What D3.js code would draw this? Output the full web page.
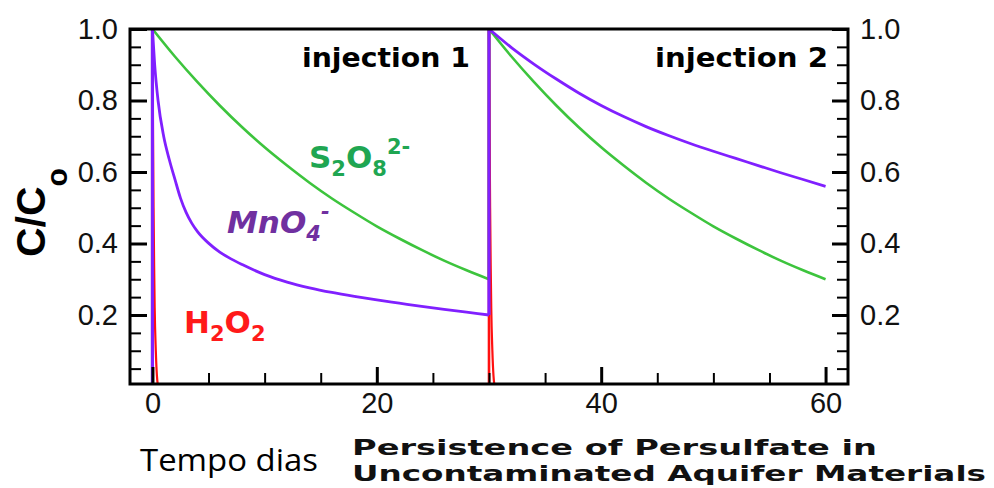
<!DOCTYPE html>
<html><head><meta charset="utf-8">
<script src="https://cdn.jsdelivr.net/npm/d3@7"></script>
<style>body{margin:0;background:#fff}svg{display:block}</style>
</head><body>
<svg id="c" width="994" height="488"></svg>
<script>
// ---------- data ----------
const injectionDays = [0, 30];

const s2o8Days1 = [0,2,4,6,8,10,12,14,16,18,20,22,24,26,28,30];
const s2o8Vals1 = [1.00,0.923,0.852,0.786,0.725,0.669,0.618,0.570,0.526,0.486,0.448,0.414,0.382,0.352,0.325,0.300];
const s2o8Days2 = [30,32,34,36,38,40,42,44,46,48,50,52,54,56,58,60];
const s2o8Vals2 = [1.00,0.923,0.852,0.786,0.725,0.669,0.618,0.570,0.526,0.486,0.448,0.414,0.382,0.352,0.325,0.300];

const mno4Days1 = [0,0.2,0.5,1,1.5,2,2.5,3,3.5,4,5,6,7,8,10,12,14,16,18,20,22,24,26,28,30];
const mno4Vals1 = [1.00,0.90,0.80,0.70,0.635,0.58,0.527,0.487,0.457,0.434,0.401,0.376,0.357,0.341,0.313,0.292,0.276,0.263,0.252,0.242,0.233,0.224,0.216,0.208,0.200];
const mno4Days2 = [30,32,34,36,38,40,42,44,46,48,50,52,54,56,58,60];
const mno4Vals2 = [1.00,0.948,0.902,0.860,0.821,0.786,0.755,0.727,0.702,0.679,0.658,0.638,0.618,0.598,0.579,0.560];

const h2o2Days1 = [0,0.05,0.1,0.15,0.2,0.3,0.4,0.5];
const h2o2Vals1 = [1.00,0.72,0.50,0.34,0.22,0.10,0.03,0.00];
const h2o2Days2 = [30,30.05,30.1,30.15,30.2,30.3,30.4,30.5];
const h2o2Vals2 = [1.00,0.72,0.50,0.34,0.22,0.10,0.03,0.00];

const xMajorTicks = [0,20,40,60];
const xTickLabels = ["0","20","40","60"];
const xMinorTicks = [5,10,15,25,30,35,45,50,55];
const yMajorTicks = [0.2,0.4,0.6,0.8,1.0];
const yTickLabels = ["0.2","0.4","0.6","0.8","1.0"];
const yMinorTicks = [0.05,0.1,0.15,0.25,0.3,0.35,0.45,0.5,0.55,0.65,0.7,0.75,0.85,0.9,0.95];

// ---------- layout ----------
const svg = d3.select("#c");
const x = d3.scaleLinear().domain([-2, 62]).range([130, 848]);
const y = d3.scaleLinear().domain([0.007, 1.0]).range([384, 29]);

const series = [
  {color:"#3dc43d", width:2.6, parts:[[s2o8Days1,s2o8Vals1],[s2o8Days2,s2o8Vals2]]},
  {color:"#ff1010", width:2.2, parts:[[h2o2Days1,h2o2Vals1],[h2o2Days2,h2o2Vals2]]},
  {color:"#8020ff", width:2.8, parts:[[mno4Days1,mno4Vals1],[mno4Days2,mno4Vals2]]}
];

svg.append("clipPath").attr("id","clip").append("rect")
  .attr("x", x.range()[0]).attr("y", y.range()[1])
  .attr("width", x.range()[1]-x.range()[0]).attr("height", y.range()[0]-y.range()[1]);

const gLines = svg.append("g").attr("clip-path","url(#clip)");
const curveLine = d3.line().x(d=>x(d[0])).y(d=>y(d[1])).curve(d3.curveMonotoneX);
const straight = d3.line().x(d=>x(d[0])).y(d=>y(d[1]));

series.forEach(s=>{
  let prev = 0;
  s.parts.forEach((p,i)=>{
    const pts = p[0].map((t,j)=>[t,p[1][j]]);
    gLines.append("path").attr("d", straight([[injectionDays[i], prev],[injectionDays[i], pts[0][1]]]))
      .attr("fill","none").attr("stroke", s.color).attr("stroke-width", s.width+0.4);
    gLines.append("path").attr("d", curveLine(pts))
      .attr("fill","none").attr("stroke", s.color).attr("stroke-width", s.width)
      .attr("stroke-linejoin","round");
    prev = pts[pts.length-1][1];
  });
});

// ---------- axes ----------
const fmtY = (d)=> yTickLabels[yMajorTicks.indexOf(d)];
const fmtX = (d)=> xTickLabels[xMajorTicks.indexOf(d)];
const axisFont = "'Liberation Sans', Arial, sans-serif";

function styleAxis(g, sw){
  g.select(".domain").remove();
  g.selectAll("line").attr("stroke","#000").attr("stroke-width", sw);
  g.selectAll("text").attr("font-family", axisFont).attr("font-size", 29).attr("fill","#111");
}

const xL = x.range()[0], xR = x.range()[1], yT = y.range()[1], yB = y.range()[0];

svg.append("g").attr("transform",`translate(${xL},0)`)
  .call(d3.axisLeft(y).tickValues(yMinorTicks).tickSize(-11).tickFormat(""))
  .call(g=>styleAxis(g,2));
svg.append("g").attr("transform",`translate(${xL},0)`)
  .call(d3.axisLeft(y).tickValues(yMajorTicks).tickSize(-17).tickPadding(12).tickFormat(fmtY))
  .call(g=>styleAxis(g,3));

svg.append("g").attr("transform",`translate(${xR},0)`)
  .call(d3.axisRight(y).tickValues(yMinorTicks).tickSize(-11).tickFormat(""))
  .call(g=>styleAxis(g,2));
svg.append("g").attr("transform",`translate(${xR},0)`)
  .call(d3.axisRight(y).tickValues(yMajorTicks).tickSize(-16).tickPadding(12).tickFormat(fmtY))
  .call(g=>styleAxis(g,3));

svg.append("g").attr("transform",`translate(0,${yB})`)
  .call(d3.axisBottom(x).tickValues(xMinorTicks).tickSize(-11).tickFormat(""))
  .call(g=>styleAxis(g,2));
svg.append("g").attr("transform",`translate(0,${yB})`)
  .call(d3.axisBottom(x).tickValues(xMajorTicks).tickSize(-17).tickPadding(8).tickFormat(fmtX))
  .call(g=>styleAxis(g,3));

// frame
svg.append("rect").attr("x",xL).attr("y",yT).attr("width",xR-xL).attr("height",yB-yT)
  .attr("fill","none").attr("stroke","#000").attr("stroke-width",3);

// y axis title C/Co
const yt = svg.append("text").attr("transform","translate(45,257) rotate(-90)")
  .attr("font-family",axisFont).attr("font-weight","bold").attr("font-size",41).attr("fill","#000");
yt.append("tspan").text("C/C");
yt.append("tspan").attr("dy",22).attr("font-size",30).text("o");

// panel labels
const lblFont = "'DejaVu Sans', sans-serif";
svg.append("text").attr("x",302).attr("y",67).attr("font-family",lblFont).attr("font-weight","bold")
  .attr("font-size",27).attr("textLength",168).attr("lengthAdjust","spacingAndGlyphs").text("injection 1");
svg.append("text").attr("x",655).attr("y",67).attr("font-family",lblFont).attr("font-weight","bold")
  .attr("font-size",27).attr("textLength",173).attr("lengthAdjust","spacingAndGlyphs").text("injection 2");

// species labels
function chem(xp, yp, color, parts, italic){
  const t = svg.append("text").attr("x",xp).attr("y",yp).attr("font-family",lblFont)
    .attr("font-weight","bold").attr("font-size",31).attr("fill",color);
  if(italic) t.attr("font-style","italic");
  let shift = 0;
  parts.forEach(p=>{
    const target = p[1]==="sub" ? 8 : p[1]==="sup" ? -14 : 0;
    t.append("tspan").attr("dy", target-shift).attr("font-size", p[1]==="n" ? 31 : 21).text(p[0]);
    shift = target;
  });
}
chem(309,168,"#1fa652",[["S","n"],["2","sub"],["O","n"],["8","sub"],["2-","sup"]],false);
chem(227,233,"#7030a0",[["MnO","n"],["4","sub"],["-","sup"]],true);
chem(184,333,"#ff1a1a",[["H","n"],["2","sub"],["O","n"],["2","sub"]],false);

// bottom texts
svg.append("text").attr("x",140).attr("y",471).attr("font-family","'Open Sans', sans-serif")
  .attr("font-size",31).attr("textLength",178).attr("lengthAdjust","spacingAndGlyphs").attr("fill","#000").text("Tempo dias");
svg.append("text").attr("x",352).attr("y",455).attr("font-family","'DejaVu Sans', sans-serif").attr("font-weight","bold")
  .attr("font-size",21.5).attr("textLength",525).attr("lengthAdjust","spacingAndGlyphs").attr("fill","#111").text("Persistence of Persulfate in");
svg.append("text").attr("x",352).attr("y",481).attr("font-family","'DejaVu Sans', sans-serif").attr("font-weight","bold")
  .attr("font-size",21.5).attr("textLength",634).attr("lengthAdjust","spacingAndGlyphs").attr("fill","#111").text("Uncontaminated Aquifer Materials");
</script>
</body></html>
